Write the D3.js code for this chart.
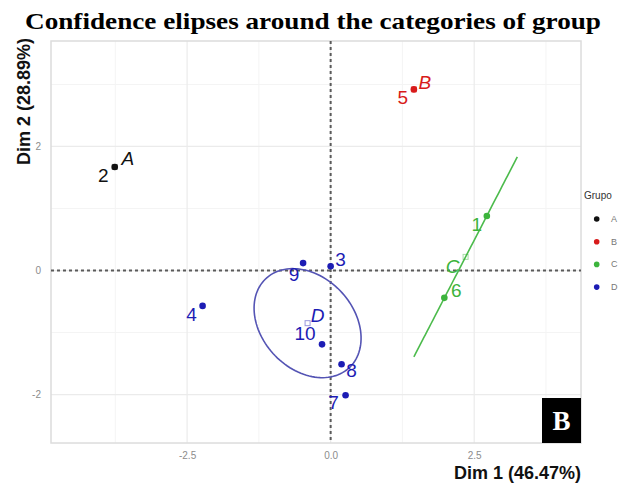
<!DOCTYPE html>
<html>
<head>
<meta charset="utf-8">
<script src="https://cdn.jsdelivr.net/npm/d3@7"></script>
<style>
  html, body { margin: 0; padding: 0; background: #fff; }
  svg { display: block; }
</style>
</head>
<body>
<div id="chart"></div>
<script>
// data
const ids = ["1", "2", "3", "4", "5", "6", "7", "8", "9", "10"];
const groups = ["C", "A", "D", "D", "B", "C", "D", "D", "D", "D"];
const dim1 = [2.72, -3.76, 0.00, -2.23, 1.45, 1.98, 0.26, 0.19, -0.48, -0.15];
const dim2 = [0.88, 1.67, 0.07, -0.57, 2.92, -0.44, -2.01, -1.51, 0.12, -1.19];

const categories = ["A", "B", "C", "D"];
const catColors = ["#111111", "#d81b1b", "#3cb43c", "#1c1cb4"];

// confidence ellipses (semi-axes in Dim units, angle in degrees)
const ellipseGroups = ["C", "D"];
const ellipseRx = [1.845, 1.025];
const ellipseRy = [0.0, 0.768];
const ellipseAngle = [60.8, -39];

const xTicks = [-2.5, 0, 2.5];
const xTickLabels = ["-2.5", "0.0", "2.5"];
const yTicks = [-2, 0, 2];
const yTickLabels = ["-2", "0", "2"];
const xMinor = [-3.75, -1.25, 1.25, 3.75];
const yMinor = [-1, 1, 3];

// label nudges in px (repel-like placement)
const labelDx = [-10, -11.5, 10, -11, -11, 12, -12, 10, -9, -17];
const labelDy = [9, 8.5, -7, 9, 8, -7, 7.5, 6.5, 11, -10.5];
const catDx = [13, 11, -13, 10];
const catDy = [-8, -7, 9.6, -8];

const W = 626, H = 486;
const panel = {left: 51, right: 581, top: 41, bottom: 443};

const svg = d3.select("#chart").append("svg")
    .attr("width", W)
    .attr("height", H);

const x = d3.scaleLinear().domain([-4.87, 4.36]).range([panel.left, panel.right]);
const y = d3.scaleLinear().domain([-2.78, 3.7]).range([panel.bottom, panel.top]);
const color = d3.scaleOrdinal().domain(categories).range(catColors);

// title
svg.append("text")
    .attr("x", 25)
    .attr("y", 29)
    .attr("textLength", 576)
    .attr("lengthAdjust", "spacingAndGlyphs")
    .style("font-family", "'Liberation Serif', 'Times New Roman', serif")
    .style("font-weight", "bold")
    .style("font-size", "23px")
    .attr("fill", "#000")
    .text("Confidence elipses around the categories of group");

// grid
const grid = svg.append("g");
grid.selectAll(".gx-minor").data(xMinor).enter().append("line")
    .attr("x1", d => x(d)).attr("x2", d => x(d))
    .attr("y1", panel.top).attr("y2", panel.bottom)
    .attr("stroke", "#f4f4f4").attr("stroke-width", 1);
grid.selectAll(".gy-minor").data(yMinor).enter().append("line")
    .attr("y1", d => y(d)).attr("y2", d => y(d))
    .attr("x1", panel.left).attr("x2", panel.right)
    .attr("stroke", "#f4f4f4").attr("stroke-width", 1);
grid.selectAll(".gx").data(xTicks).enter().append("line")
    .attr("x1", d => x(d)).attr("x2", d => x(d))
    .attr("y1", panel.top).attr("y2", panel.bottom)
    .attr("stroke", "#ebebeb").attr("stroke-width", 1.2);
grid.selectAll(".gy").data(yTicks).enter().append("line")
    .attr("y1", d => y(d)).attr("y2", d => y(d))
    .attr("x1", panel.left).attr("x2", panel.right)
    .attr("stroke", "#ebebeb").attr("stroke-width", 1.2);

svg.append("rect")
    .attr("x", panel.left).attr("y", panel.top)
    .attr("width", panel.right - panel.left)
    .attr("height", panel.bottom - panel.top)
    .attr("fill", "none")
    .attr("stroke", "#dcdcdc")
    .attr("stroke-width", 1.5);

// axes (labels only)
const xAxis = svg.append("g")
    .attr("transform", "translate(0," + (panel.bottom + 6) + ")")
    .call(d3.axisBottom(x).tickValues(xTicks).tickSize(0)
        .tickFormat((d, i) => xTickLabels[i]));
const yAxis = svg.append("g")
    .attr("transform", "translate(" + (panel.left - 7) + ",0)")
    .call(d3.axisLeft(y).tickValues(yTicks).tickSize(0)
        .tickFormat((d, i) => yTickLabels[i]));
[xAxis, yAxis].forEach(a => {
    a.select(".domain").remove();
    a.selectAll("text")
        .attr("fill", "#8c8c8c")
        .style("font-family", "'Liberation Sans', Arial, sans-serif")
        .style("font-size", "10px");
});

// reference lines at zero
svg.append("line")
    .attr("x1", x(0)).attr("x2", x(0))
    .attr("y1", panel.top).attr("y2", panel.bottom)
    .attr("stroke", "#5a5a5a").attr("stroke-width", 2)
    .attr("stroke-dasharray", "3,3");
svg.append("line")
    .attr("x1", panel.left).attr("x2", panel.right)
    .attr("y1", y(0)).attr("y2", y(0))
    .attr("stroke", "#5a5a5a").attr("stroke-width", 2)
    .attr("stroke-dasharray", "3,3");

// centroids
const centroids = categories.map(c => {
    const idx = groups.map((g, i) => g === c ? i : -1).filter(i => i >= 0);
    return {
        cat: c,
        x: d3.mean(idx, i => dim1[i]),
        y: d3.mean(idx, i => dim2[i])
    };
});

// ellipses
const ellipseColors = {C: "#4cbb4c", D: "#5454b4"};
ellipseGroups.forEach((g, k) => {
    const c = centroids.find(d => d.cat === g);
    const a = ellipseAngle[k] * Math.PI / 180;
    const pts = d3.range(0, 361, 3).map(t => {
        const th = t * Math.PI / 180;
        const ex = ellipseRx[k] * Math.cos(th), ey = ellipseRy[k] * Math.sin(th);
        return [c.x + ex * Math.cos(a) - ey * Math.sin(a),
                c.y + ex * Math.sin(a) + ey * Math.cos(a)];
    });
    svg.append("path")
        .attr("d", d3.line().x(d => x(d[0])).y(d => y(d[1]))(pts))
        .attr("fill", "none")
        .attr("stroke", ellipseColors[g])
        .attr("stroke-width", 1.6);
});

// centroid markers
svg.selectAll(".centroid").data(centroids).enter().append("rect")
    .attr("x", d => x(d.x) - 2.5)
    .attr("y", d => y(d.y) - 2.5)
    .attr("width", 5).attr("height", 5)
    .attr("fill", "none")
    .attr("stroke", d => color(d.cat))
    .attr("stroke-opacity", 0.45)
    .attr("stroke-width", 1);

// points
svg.selectAll(".pt").data(ids).enter().append("circle")
    .attr("cx", (d, i) => x(dim1[i]))
    .attr("cy", (d, i) => y(dim2[i]))
    .attr("r", 3.3)
    .attr("fill", (d, i) => color(groups[i]));

// point labels
svg.selectAll(".lab").data(ids).enter().append("text")
    .attr("x", (d, i) => x(dim1[i]) + labelDx[i])
    .attr("y", (d, i) => y(dim2[i]) + labelDy[i])
    .attr("text-anchor", "middle")
    .attr("dominant-baseline", "central")
    .attr("fill", (d, i) => color(groups[i]))
    .style("font-family", "'Liberation Sans', Arial, sans-serif")
    .style("font-size", "19px")
    .text(d => d);

// category labels
svg.selectAll(".clab").data(centroids).enter().append("text")
    .attr("x", (d, i) => x(d.x) + catDx[i])
    .attr("y", (d, i) => y(d.y) + catDy[i])
    .attr("text-anchor", "middle")
    .attr("dominant-baseline", "central")
    .attr("fill", d => color(d.cat))
    .style("font-family", "'Liberation Sans', Arial, sans-serif")
    .style("font-style", "italic")
    .style("font-size", "19px")
    .text(d => d.cat);

// axis titles
svg.append("text")
    .attr("x", panel.right)
    .attr("y", 479)
    .attr("text-anchor", "end")
    .style("font-family", "'Liberation Sans', Arial, sans-serif")
    .style("font-weight", "bold")
    .style("font-size", "18px")
    .attr("fill", "#111")
    .text("Dim 1 (46.47%)");
svg.append("text")
    .attr("transform", "translate(30,38) rotate(-90)")
    .attr("text-anchor", "end")
    .style("font-family", "'Liberation Sans', Arial, sans-serif")
    .style("font-weight", "bold")
    .style("font-size", "18px")
    .attr("fill", "#111")
    .text("Dim 2 (28.89%)");

// legend
const legend = svg.append("g").attr("transform", "translate(584,0)");
legend.append("text")
    .attr("x", 0).attr("y", 199)
    .style("font-family", "'Liberation Sans', Arial, sans-serif")
    .style("font-size", "10px")
    .attr("fill", "#333")
    .text("Grupo");
const items = legend.selectAll(".item").data(categories).enter().append("g")
    .attr("transform", (d, i) => "translate(0," + (219 + i * 22.7) + ")");
items.append("circle")
    .attr("cx", 12.7).attr("cy", 0).attr("r", 2.8)
    .attr("fill", d => color(d));
items.append("text")
    .attr("x", 27).attr("y", 0)
    .attr("dominant-baseline", "central")
    .style("font-family", "'Liberation Sans', Arial, sans-serif")
    .style("font-size", "9px")
    .attr("fill", "#777")
    .text(d => d);

// panel tag
svg.append("rect")
    .attr("x", 542).attr("y", 398)
    .attr("width", 39).attr("height", 45)
    .attr("fill", "#000");
svg.append("text")
    .attr("x", 561.5).attr("y", 421)
    .attr("text-anchor", "middle")
    .attr("dominant-baseline", "central")
    .style("font-family", "'Liberation Serif', 'Times New Roman', serif")
    .style("font-weight", "bold")
    .style("font-size", "27px")
    .attr("fill", "#fff")
    .text("B");
</script>
</body>
</html>
